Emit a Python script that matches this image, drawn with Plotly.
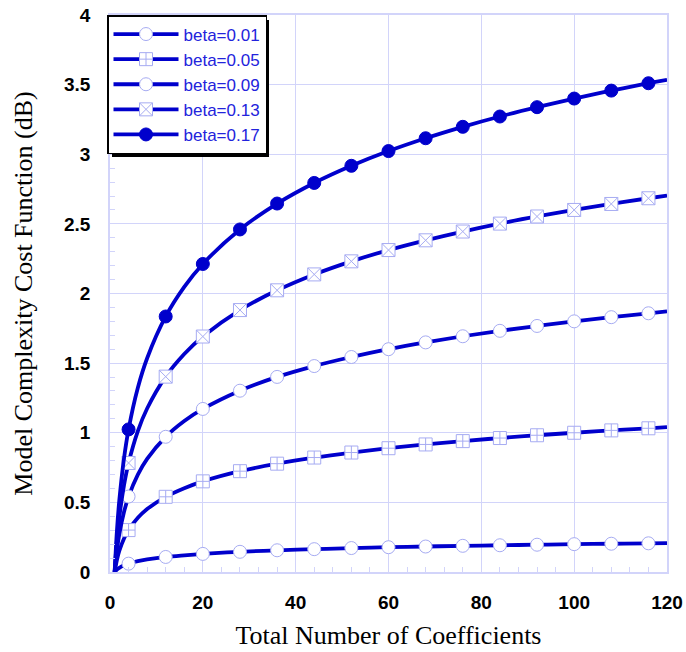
import plotly.graph_objects as go

# Data
N = [1, 1.5, 2, 3, 4, 6, 8, 12, 16, 20, 28, 36, 44, 52, 60, 68, 76, 84, 92, 100, 108, 116, 120]
beta_001 = [0, .018, .030, .048, .060, .078, .090, .108, .120, .130, .145, .156, .164, .172, .178, .183, .188, .192, .196, .200, .203, .206, .208]
beta_005 = [0, .088, .151, .239, .301, .389, .452, .540, .602, .651, .724, .778, .822, .858, .889, .916, .940, .962, .982, 1.000, 1.017, 1.032, 1.040]
beta_009 = [0, .158, .271, .429, .542, .700, .813, .971, 1.084, 1.171, 1.302, 1.401, 1.479, 1.544, 1.600, 1.649, 1.693, 1.732, 1.767, 1.800, 1.830, 1.858, 1.871]
beta_013 = [0, .229, .391, .620, .783, 1.012, 1.174, 1.403, 1.565, 1.691, 1.881, 2.023, 2.137, 2.231, 2.312, 2.382, 2.445, 2.502, 2.553, 2.600, 2.643, 2.684, 2.703]
beta_017 = [0, .299, .512, .811, 1.024, 1.323, 1.535, 1.835, 2.047, 2.212, 2.460, 2.646, 2.794, 2.917, 3.023, 3.115, 3.197, 3.271, 3.338, 3.400, 3.457, 3.510, 3.535]
MARKER_N = [4, 12, 20, 28, 36, 44, 52, 60, 68, 76, 84, 92, 100, 108, 116]
names = ["beta=0.01", "beta=0.05", "beta=0.09", "beta=0.13", "beta=0.17"]
series = [beta_001, beta_005, beta_009, beta_013, beta_017]
x_ticks = [0, 20, 40, 60, 80, 100, 120]
y_ticks = [0, 0.5, 1, 1.5, 2, 2.5, 3, 3.5, 4]

LINE = "#0000cc"
MEDGE = "#a6abf2"
GRID = "#d2d4fa"
symbols = ["circle", "square-cross", "circle", "square-x", "circle"]
fills = ["white", "white", "white", "white", LINE]
edges = [MEDGE, MEDGE, MEDGE, MEDGE, LINE]

fig = go.Figure()
for name, ys, sym, fc, ec in zip(names, series, symbols, fills, edges):
    fig.add_trace(go.Scatter(x=N, y=ys, mode="lines", line=dict(color=LINE, width=3.8, shape="spline"),
                             showlegend=False, hoverinfo="skip"))
    mx = [n for n in N if n in MARKER_N]
    my = [y for n, y in zip(N, ys) if n in MARKER_N]
    fig.add_trace(go.Scatter(x=mx, y=my, mode="markers", showlegend=False,
                             marker=dict(symbol=sym, size=13, color=fc, line=dict(color=ec, width=1))))
    fig.add_trace(go.Scatter(x=[None], y=[None], mode="lines+markers", name=name,
                             line=dict(color=LINE, width=3.8),
                             marker=dict(symbol=sym, size=13, color=fc, line=dict(color=ec, width=1))))

L, R, T, B = 110, 19, 15, 80
W, H = 686, 652
pw, ph = W - L - R, H - T - B

def px(x):
    return (x - L) / pw

def py(y):
    return (H - B - y) / ph

# legend drop shadow
fig.add_shape(type="rect", xref="paper", yref="paper",
              x0=px(112), x1=px(269), y0=py(157), y1=py(20),
              fillcolor="black", line=dict(width=0), layer="above")

axis_common = dict(showline=True, linecolor=GRID, linewidth=1.5, mirror=True,
                   showgrid=True, gridcolor=GRID, gridwidth=1, zeroline=False,
                   ticks="inside", ticklen=6, tickcolor=GRID, automargin=False,
                   tickfont=dict(family="Liberation Sans", size=19, color="black", weight="bold"))

fig.update_xaxes(range=[0, 120], tickvals=x_ticks, ticklabelstandoff=12,
                 minor=dict(dtick=4, ticks="inside", ticklen=5, tickcolor=GRID, showgrid=False),
                 title=dict(text="Total Number of Coefficients", standoff=14,
                            font=dict(family="Liberation Serif", size=26, color="black")),
                 **axis_common)
fig.update_yaxes(range=[0, 4], tickvals=y_ticks, ticklabelstandoff=14,
                 minor=dict(dtick=0.1, ticks="inside", ticklen=5, tickcolor=GRID, showgrid=False),
                 title=dict(text="Model Complexity Cost Function (dB)", standoff=24,
                            font=dict(family="Liberation Serif", size=26, color="black")),
                 **axis_common)

fig.update_layout(
    width=W, height=H, autosize=False,
    margin=dict(l=L, r=R, t=T, b=B),
    paper_bgcolor="white", plot_bgcolor="white",
    legend=dict(x=px(107), y=1.0, xanchor="left", yanchor="top",
                bgcolor="white", bordercolor="black", borderwidth=1.5,
                font=dict(family="Liberation Sans", size=17, color="#2323dc"),
                itemwidth=65, tracegroupgap=0),
)

fig.write_html("out.html")
